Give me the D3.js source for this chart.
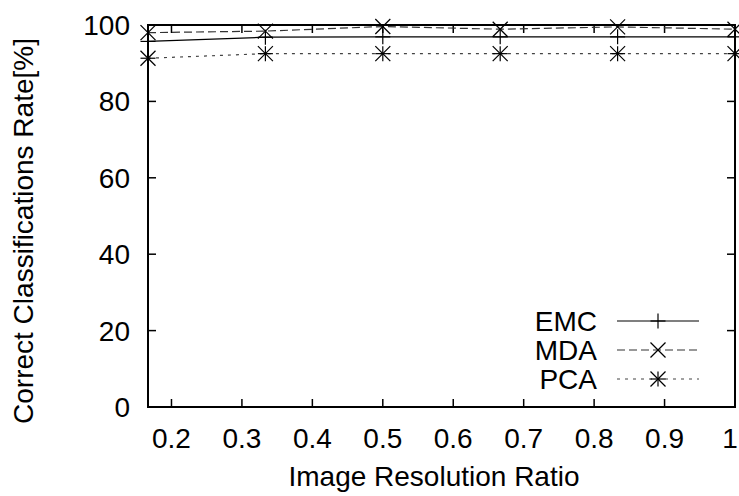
<!DOCTYPE html>
<html><head><meta charset="utf-8">
<script src="https://cdn.jsdelivr.net/npm/d3@7"></script>
<style>body{margin:0;background:#fff}svg{display:block}text{font-family:"Liberation Sans",Arial,sans-serif;fill:#000}</style>
</head><body><svg id="c" width="739" height="496"></svg>
<script>
const xValues = [1/6, 2/6, 3/6, 4/6, 5/6, 1];
const emc = [95.7, 96.8, 96.9, 96.9, 96.9, 96.9];
const mda = [98.0, 98.4, 99.6, 98.9, 99.5, 98.9];
const pca = [91.3, 92.5, 92.5, 92.5, 92.5, 92.5];
const seriesNames = ["EMC", "MDA", "PCA"];
const xTicks = [0.2, 0.3, 0.4, 0.5, 0.6, 0.7, 0.8, 0.9, 1];
const yTicks = [0, 20, 40, 60, 80, 100];

const FS = 28;
const svg = d3.select("#c");
const L = 148, R = 735, T = 25, B = 407;
const x = d3.scaleLinear().domain([1/6, 1]).range([L, R]);
const y = d3.scaleLinear().domain([0, 100]).range([B, T]);

// ticks (mirrored)
const tl = 8;
const g = svg.append("g").attr("stroke", "#000").attr("stroke-width", 1.5);
xTicks.forEach(t => {
  g.append("line").attr("x1", x(t)).attr("x2", x(t)).attr("y1", B).attr("y2", B - tl);
  g.append("line").attr("x1", x(t)).attr("x2", x(t)).attr("y1", T).attr("y2", T + tl);
});
yTicks.forEach(t => {
  g.append("line").attr("x1", L).attr("x2", L + tl).attr("y1", y(t)).attr("y2", y(t));
  g.append("line").attr("x1", R).attr("x2", R - tl).attr("y1", y(t)).attr("y2", y(t));
});
svg.selectAll(".xt").data(xTicks).enter().append("text")
  .attr("x", d => Math.min(x(d), 730)).attr("y", 448).attr("text-anchor", "middle")
  .attr("font-size", FS).text(d => d3.format("")(d));
svg.selectAll(".yt").data(yTicks).enter().append("text")
  .attr("x", 130).attr("y", d => y(d) + 10).attr("text-anchor", "end")
  .attr("font-size", FS).text(d => d);

svg.append("text").attr("x", 434).attr("y", 486).attr("text-anchor", "middle")
  .attr("font-size", FS).text("Image Resolution Ratio");
svg.append("text").attr("transform", "translate(33," + ((T + B) / 2 + 15) + ") rotate(-90)")
  .attr("text-anchor", "middle").attr("font-size", FS).text("Correct Classifications Rate[%]");

const styles = [
  {data: emc, dash: null, color: "#000", marker: "plus"},
  {data: mda, dash: "8,4", color: "#333", marker: "cross"},
  {data: pca, dash: "3,5", color: "#444", marker: "star"}
];
const line = d3.line().x((d, i) => x(xValues[i])).y(d => y(d));
const s = 7.5;
function marker(sel, cx, cy, type) {
  const m = sel.append("g").attr("stroke", "#000").attr("stroke-width", 1.2);
  if (type === "plus" || type === "star") {
    m.append("line").attr("x1", cx - s).attr("x2", cx + s).attr("y1", cy).attr("y2", cy);
    m.append("line").attr("x1", cx).attr("x2", cx).attr("y1", cy - s).attr("y2", cy + s);
  }
  if (type === "cross" || type === "star") {
    m.append("line").attr("x1", cx - s).attr("x2", cx + s).attr("y1", cy - s).attr("y2", cy + s);
    m.append("line").attr("x1", cx - s).attr("x2", cx + s).attr("y1", cy + s).attr("y2", cy - s);
  }
}
styles.forEach(st => {
  svg.append("path").datum(st.data).attr("d", line).attr("fill", "none")
    .attr("stroke", st.color).attr("stroke-width", 1.2)
    .attr("stroke-dasharray", st.dash);
  st.data.forEach((v, i) => marker(svg, x(xValues[i]), y(v), st.marker));
});

// legend
const ly = [321, 350, 379];
styles.forEach((st, i) => {
  svg.append("text").attr("x", 597).attr("y", ly[i] + 10).attr("text-anchor", "end")
    .attr("font-size", FS).text(seriesNames[i]);
  svg.append("line").attr("x1", 617).attr("x2", 699).attr("y1", ly[i]).attr("y2", ly[i])
    .attr("stroke", st.color).attr("stroke-width", 1.2).attr("stroke-dasharray", st.dash);
  marker(svg, 658, ly[i], st.marker);
});

// border
svg.append("rect").attr("x", L).attr("y", T).attr("width", R - L).attr("height", B - T)
  .attr("fill", "none").attr("stroke", "#000").attr("stroke-width", 2);
</script></body></html>
